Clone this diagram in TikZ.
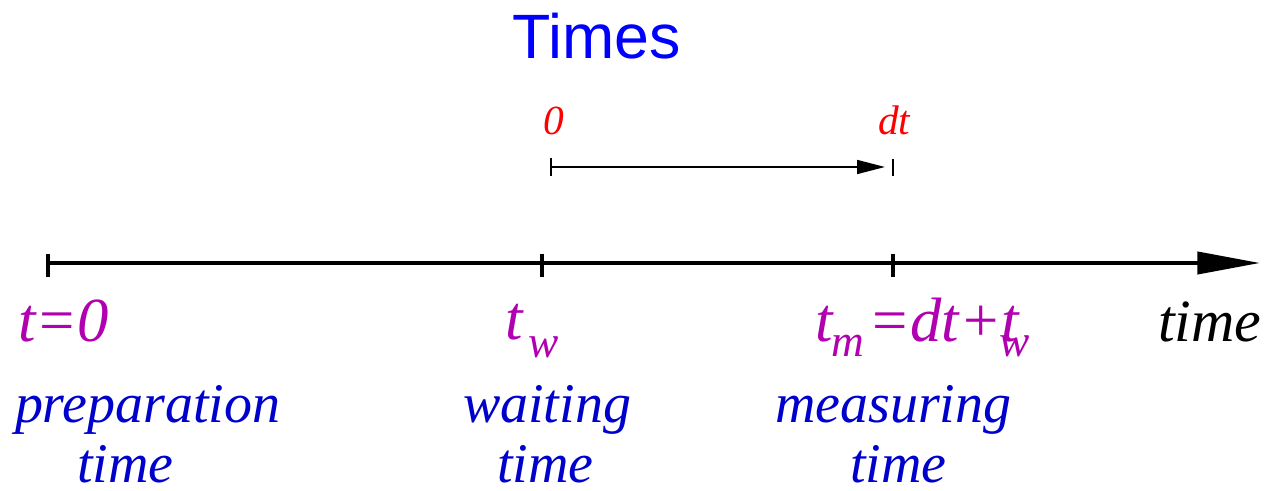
\documentclass[tikz,border=0pt]{standalone}
\usepackage{fontspec}
\setmainfont{Liberation Serif}
\newfontfamily\titlefont{Liberation Sans}
\usetikzlibrary{arrows.meta}
\definecolor{purp}{RGB}{176,0,176}
\definecolor{lblue}{RGB}{0,0,204}
\definecolor{tblue}{RGB}{0,0,255}
\begin{document}
\begin{tikzpicture}[x=0.75pt,y=-0.75pt,
  lab/.style={inner sep=0pt,outer sep=0pt,anchor=base west},
  big/.style={lab,text=purp,font=\fontsize{47}{50}\selectfont\itshape},
  sub/.style={lab,text=purp,font=\fontsize{34}{36}\selectfont\itshape},
  desc/.style={lab,text=lblue,font=\fontsize{42}{45}\selectfont\itshape},
  red/.style={lab,text=red,font=\fontsize{31}{33}\selectfont\itshape},
  axis/.style={line width=3pt},
  tick/.style={line width=3pt},
  small/.style={line width=1.2pt}]
\useasboundingbox (0,0) rectangle (1271,491);
% title
\node[inner sep=0pt,anchor=base,text=tblue,font=\titlefont\fontsize{47}{50}\selectfont] (title) at (597,59) {Times};
% main axis
\coordinate (a0) at (48,263);
\coordinate (aw) at (542,263);
\coordinate (am) at (893,263);
\coordinate (aend) at (1260,263);
\draw[axis,-{Triangle[length=47pt,width=16.5pt]}] (a0) -- (aend);
\foreach \p in {a0,aw,am}
  \draw[tick] ([yshift=7pt]\p) -- ([yshift=-10.5pt]\p);
% upper dt arrow
\coordinate (u0) at (551,167);
\coordinate (u1) at (893,167);
\coordinate (utip) at (885,167);
\draw[small,-{Triangle[length=21pt,width=10.5pt]}] (u0) -- (utip);
\draw[small] ([yshift=7pt]u0) -- ([yshift=-7pt]u0);
\draw[small] ([yshift=6pt]u1) -- ([yshift=-7pt]u1);
\node[red] (r0) at (543,135) {0};
\node[red] (rdt) at (878,135) {dt};
% purple labels
\node[big] (t0) at (18,342) {t=0};
\node[big] (tw) at (505,340) {t};
\node[sub] (tws) at (528,358) {w};
\node[big] (tm) at (815,342) {t};
\node[sub] (tms) at (831,357) {m};
\node[big] (tmr) at (868,342) {=dt+t};
\node[sub] (tmw) at (999,357) {w};
\node[lab,font=\fontsize{45}{48}\selectfont\itshape] (time) at (1158,342) {time};
% blue descriptions
\node[desc] (p1) at (15,423) {preparation};
\node[desc] (p2) at (77,483) {time};
\node[desc] (w1) at (463,423) {waiting};
\node[desc] (w2) at (497,483) {time};
\node[desc] (m1) at (775,423) {measuring};
\node[desc] (m2) at (850,483) {time};
\end{tikzpicture}
\end{document}
